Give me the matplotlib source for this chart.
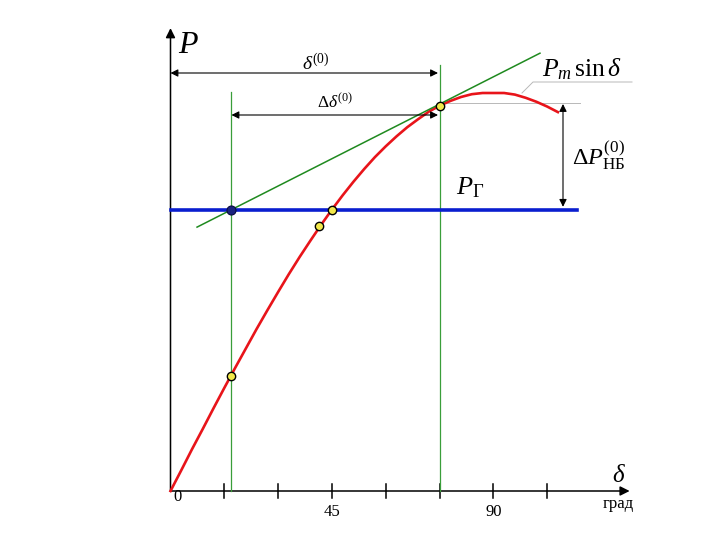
import matplotlib
matplotlib.use("Agg")
import matplotlib.pyplot as plt

plt.rcParams['mathtext.fontset'] = 'custom'
plt.rcParams['mathtext.rm'] = 'Liberation Serif'
plt.rcParams['mathtext.it'] = 'Liberation Serif:italic'
plt.rcParams['mathtext.bf'] = 'Liberation Serif:bold'
plt.rcParams['font.family'] = ['Liberation Serif', 'DejaVu Serif']

# --- data; P in units of Pm ---
delta_deg = [0, 3, 6, 9, 12, 15, 18, 21, 24, 27, 30, 33, 36, 39, 42, 45,
             48, 51, 54, 57, 60, 63, 66, 69, 72, 75, 78, 81, 84, 87, 90,
             93, 96, 99, 102, 105, 108]
p_curve = [0.0, 0.052, 0.105, 0.156, 0.208, 0.259, 0.309, 0.358, 0.407,
           0.454, 0.500, 0.545, 0.588, 0.629, 0.669, 0.707, 0.743, 0.777,
           0.809, 0.839, 0.866, 0.891, 0.914, 0.934, 0.953, 0.968, 0.980,
           0.990, 0.997, 1.0, 1.0, 1.0, 0.996, 0.988, 0.978, 0.966, 0.952]
tick_marks = [15, 30, 45, 60, 75, 90, 105]
tick_labels = ['0', '45', '90']
tick_label_pos = [0, 45, 90]

p_gen = 0.706            # P_Г level
delta_start = 17.0        # initial angle
delta_0 = 75.0            # angle delta^(0)
p_at_delta0 = 0.968
p_at_start = 0.29
extra_pt = (41.5, 0.665)
tangent_d = [7.4, 103.0]
tangent_p = [0.663, 1.10]
p_max_axis = 1.163
delta_max_axis = 128.0
p_line_end = 113.3

# --- pixel <-> data mapping helpers ---
X0, SX = 170.5, 3.587
Y0, SY = 491.0, 398.0


def px(x, y):
    return ((x - X0) / SX, (Y0 - y) / SY)


fig = plt.figure(figsize=(7.2, 5.4), dpi=100)
ax = fig.add_axes([0, 0, 1, 1])
ax.set_xlim(px(0, 0)[0], px(720, 0)[0])
ax.set_ylim(px(0, 540)[1], px(0, 0)[1])
ax.axis('off')

BLACK = 'black'
GREEN_V = '#3a9e3a'
GREEN_T = '#1f8a1f'
RED = '#e8141a'
BLUE = '#0a1ecf'

# axes with arrows
ax.annotate('', xy=(0, p_max_axis), xytext=(0, 0),
            arrowprops=dict(arrowstyle='-|>', color=BLACK, lw=1.1,
                            mutation_scale=14, shrinkA=0, shrinkB=0), zorder=2)
ax.annotate('', xy=(delta_max_axis, 0), xytext=(0, 0),
            arrowprops=dict(arrowstyle='-|>', color=BLACK, lw=1.1,
                            mutation_scale=14, shrinkA=0, shrinkB=0), zorder=2)
for t in tick_marks:
    ax.plot([t, t], [-0.018, 0.018], color=BLACK, lw=1.1, zorder=2)

for lab, pos in zip(tick_labels, tick_label_pos):
    if pos == 0:
        xx, yy = px(177, 497)
    else:
        xx, yy = pos, px(0, 512)[1]
    ax.text(xx, yy, lab, ha='center', va='center', fontsize=12)

# green verticals
ax.plot([delta_start, delta_start], [0, px(0, 92)[1]], color=GREEN_V, lw=0.9, zorder=3)
ax.plot([delta_0, delta_0], [0, px(0, 65)[1]], color=GREEN_V, lw=0.9, zorder=3)

# gray helper lines
ax.plot([delta_0, px(580, 0)[0]], [px(0, 103)[1]] * 2, color='#b8b8b8', lw=0.7, zorder=1)
gx1, gy1 = px(533, 82)
gx2, _ = px(632, 82)
gx0, gy0 = px(522, 93)
ax.plot([gx0, gx1, gx2], [gy0, gy1, gy1], color='#b8b8b8', lw=0.7, zorder=1)

# red curve
ax.plot(delta_deg, p_curve, color=RED, lw=1.9, zorder=4, solid_joinstyle='round')

# blue line
ax.plot([0, p_line_end], [p_gen, p_gen], color=BLUE, lw=2.6, zorder=5)

# tangent
ax.plot(tangent_d, tangent_p, color=GREEN_T, lw=1.1, zorder=6)

# points
ax.plot([delta_start], [p_gen], 'o', ms=6.5, mfc='#1a237e', mec='#0a0a40', mew=0.8, zorder=8)
for (d, p) in [(delta_start, p_at_start), extra_pt, (45, p_gen), (delta_0, p_at_delta0)]:
    ax.plot([d], [p], 'o', ms=6, mfc='#f2e84a', mec='black', mew=1.0, zorder=8)

# dimension arrows
arr = dict(arrowstyle='<|-|>', color=BLACK, lw=0.8, mutation_scale=11,
           shrinkA=0, shrinkB=0)
y_d0 = px(0, 73)[1]
ax.annotate('', xy=(0, y_d0), xytext=(px(438, 0)[0], y_d0), arrowprops=arr, zorder=7)
y_dd = px(0, 115)[1]
ax.annotate('', xy=(delta_start, y_dd), xytext=(px(438, 0)[0], y_dd), arrowprops=arr, zorder=7)
x_dp = px(563, 0)[0]
ax.annotate('', xy=(x_dp, px(0, 104)[1]), xytext=(x_dp, p_gen + 0.008), arrowprops=arr, zorder=7)

# labels
def T(x, y, s, size, **kw):
    d = px(x, y)
    ax.text(d[0], d[1], s, fontsize=size, **kw)

T(178, 53, r'$P$', 23, ha='left', va='baseline')
T(302, 70, r'$\delta^{(0)}$', 14, ha='left', va='baseline')
T(317, 108, r'$\Delta\delta^{(0)}$', 12.5, ha='left', va='baseline')
T(542, 76, r'$P_m\,\mathrm{sin}\,\delta$', 18.5, ha='left', va='baseline')
T(572, 164, r'$\Delta P_{\mathrm{НБ}}^{(0)}$', 17.5, ha='left', va='baseline')
T(456, 194, r'$P_{\mathrm{Г}}$', 19, ha='left', va='baseline')
T(612, 482, r'$\delta$', 18, ha='left', va='baseline')
T(603, 508, 'град', 12, ha='left', va='baseline')

fig.savefig('out.png', dpi=100)
